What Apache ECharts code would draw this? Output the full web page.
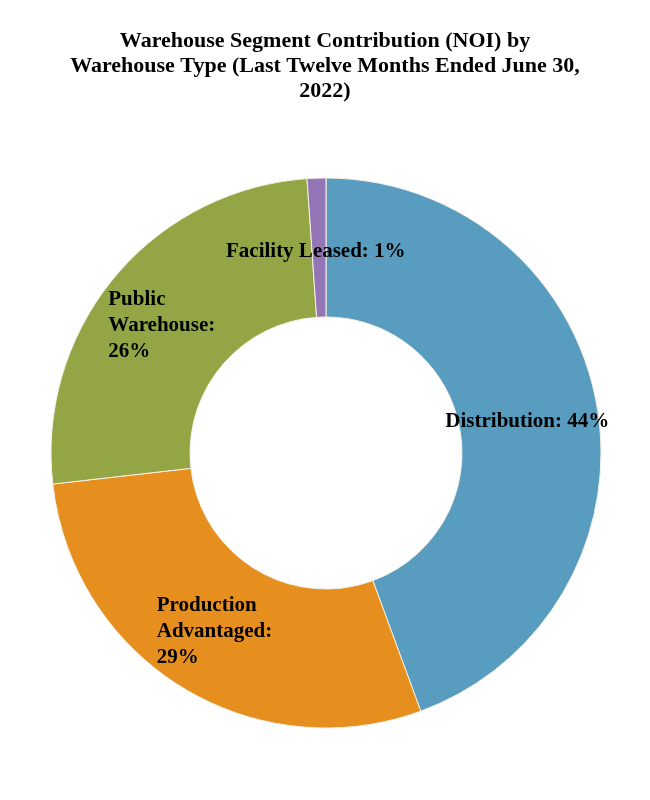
<!DOCTYPE html>
<html>
<head>
<meta charset="utf-8">
<script src="https://cdn.jsdelivr.net/npm/echarts@6/dist/echarts.min.js"></script>
<style>
  html, body { margin: 0; padding: 0; background: #fff; }
  #main { width: 650px; height: 800px; }
</style>
</head>
<body>
<div id="main"></div>
<script>
// segment names and NOI share (%), clockwise from 12 o'clock
var segments = ['Distribution', 'Production Advantaged', 'Public Warehouse', 'Facility Leased'];
var shares = [44.4, 28.8, 25.7, 1.1];
var labelText = ['Distribution: 44%', 'Production\nAdvantaged:\n29%', 'Public\nWarehouse:\n26%', 'Facility Leased: 1%'];
var colors = ['#589CC0', '#E68F1E', '#94A545', '#9475B5'];
// small nudges so the labels sit where the original put them
var labelNudge = [[-4, 5], [-2, 1], [-4, 6], [-3, 7]];

var myChart = echarts.init(document.getElementById('main'));

var pieData = segments.map(function (name, i) {
    return {
        name: name,
        value: shares[i],
        itemStyle: { color: colors[i] },
        label: {
            offset: labelNudge[i],
            formatter: labelText[i].split('\n').map(function (s) { return '{t|' + s + '}'; }).join('\n')
        }
    };
});

var option = {
    backgroundColor: '#fff',
    animation: false,
    title: {
        text: 'Warehouse Segment Contribution (NOI) by\nWarehouse Type (Last Twelve Months Ended June 30,\n2022)',
        left: 'center',
        top: 24,
        textStyle: {
            fontFamily: 'Liberation Serif',
            fontWeight: 'bold',
            fontSize: 22,
            lineHeight: 25,
            color: '#000'
        }
    },
    series: [{
        type: 'pie',
        center: [326, 453],
        radius: [136, 275],
        startAngle: 90,
        clockwise: true,
        avoidLabelOverlap: false,
        itemStyle: { borderColor: '#f4f0e6', borderWidth: 1 },
        label: {
            show: true,
            position: 'inside',
            rich: {
                t: {
                    align: 'left',
                    fontFamily: 'Liberation Serif',
                    fontWeight: 'bold',
                    fontSize: 21,
                    lineHeight: 26,
                    color: '#000'
                }
            }
        },
        labelLine: { show: false },
        emphasis: { disabled: true },
        data: pieData
    }]
};

myChart.setOption(option);
</script>
</body>
</html>
